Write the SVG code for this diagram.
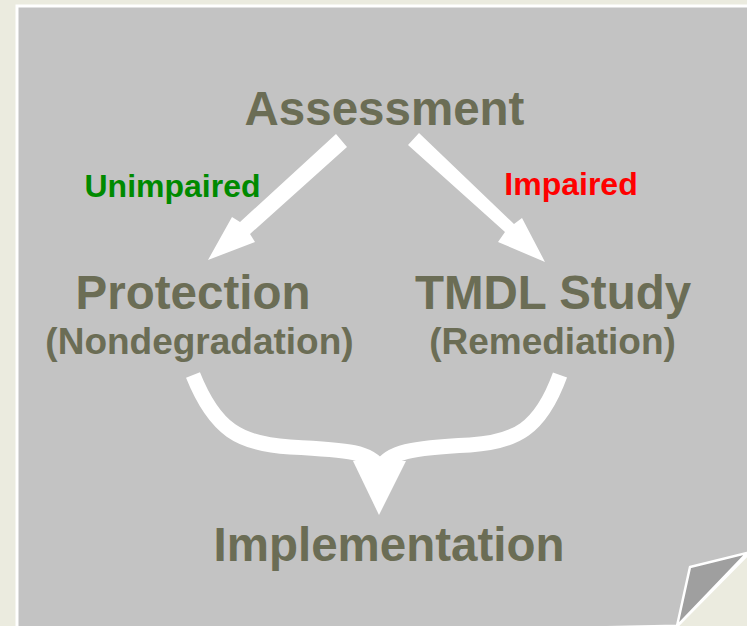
<svg xmlns="http://www.w3.org/2000/svg" width="747" height="626" viewBox="0 0 747 626">
<style>
.t{font-family:"Liberation Sans",Arial,sans-serif;font-weight:bold;fill:#6B6D55;text-anchor:middle}
.big{font-size:47.5px}
.sub{font-size:37px}
.lbl{font-family:"Liberation Sans",Arial,sans-serif;font-weight:bold;font-size:32px;text-anchor:middle}
.arr{fill:#FFFFFF}
.curve{fill:none;stroke:#FFFFFF;stroke-width:15}
</style>
<rect x="0" y="0" width="747" height="626" fill="#EBEBDF"/>
<g id="page">
<polygon points="17,6 760,6 760,551 747,555 677,626 17,640" fill="#C3C3C3" stroke="#FFFFFF" stroke-width="3"/>
<polygon points="690,567 747,553 677,626" fill="#9F9F9F" stroke="#FFFFFF" stroke-width="2.5" stroke-linejoin="round"/>
</g>
<g id="connectors">
<polygon class="arr" points="336,134 347,147 250,234 255,242 208,260 232,217 240,222"/>
<polygon class="arr" points="419,133 408,145 505,232 498,242 545,262 522,218 514,224"/>
<path class="curve" d="M193 375 C 215 430, 240 444, 290 447 C 350 450, 370 452, 380 468"/>
<path class="curve" d="M560 375 C 540 430, 515 442, 470 445 C 410 448, 390 452, 380 468"/>
<polygon class="arr" points="353,461 406,461 379,515"/>
</g>
<g id="assessment"><text class="t big" x="384.5" y="125">Assessment</text></g>
<g id="unimpaired"><text class="lbl" x="172.5" y="197" fill="#008A00">Unimpaired</text></g>
<g id="impaired"><text class="lbl" x="571" y="195" fill="#FF0000">Impaired</text></g>
<g id="protection">
<text class="t big" x="193" y="309">Protection</text>
<text class="t sub" x="199.5" y="354">(Nondegradation)</text>
</g>
<g id="tmdl">
<text class="t big" x="553" y="309">TMDL Study</text>
<text class="t sub" x="552.5" y="354">(Remediation)</text>
</g>
<g id="implementation"><text class="t big" x="389" y="561">Implementation</text></g>
</svg>
